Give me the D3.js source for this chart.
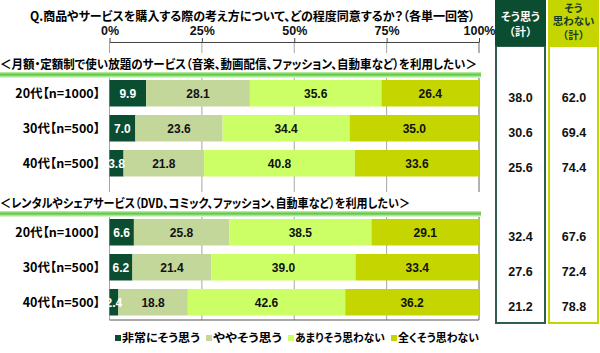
<!DOCTYPE html>
<html>
<head>
<meta charset="utf-8">
<script src="https://cdn.jsdelivr.net/npm/d3@7"></script>
<style>
  body { margin: 0; background: #fff; }
  svg { display: block; font-family: "Noto Sans CJK JP", sans-serif; font-feature-settings: "palt"; }
  .num { font-family: "Liberation Sans", Arial, sans-serif; }
</style>
</head>
<body>
<div id="chart"></div>
<script>
// data
const title = "Q.商品やサービスを購入する際の考え方について、どの程度同意するか？（各単一回答）";
const categories = ["20代【n=1000】", "30代【n=500】", "40代【n=500】"];
const seriesNames = ["非常にそう思う", "ややそう思う", "あまりそう思わない", "全くそう思わない"];
const sectionTitles = [
  "＜月額・定額制で使い放題のサービス（音楽、動画配信、ファッション、自動車など）を利用したい＞",
  "＜レンタルやシェアサービス（DVD、コミック、ファッション、自動車など）を利用したい＞"
];
const subscriptionValues = [
  [9.9, 28.1, 35.6, 26.4],
  [7.0, 23.6, 34.4, 35.0],
  [3.8, 21.8, 40.8, 33.6]
];
const rentalValues = [
  [6.6, 25.8, 38.5, 29.1],
  [6.2, 21.4, 39.0, 33.4],
  [2.4, 18.8, 42.6, 36.2]
];
const subscriptionAgree = [38.0, 30.6, 25.6];
const subscriptionDisagree = [62.0, 69.4, 74.4];
const rentalAgree = [32.4, 27.6, 21.2];
const rentalDisagree = [67.6, 72.4, 78.8];
const tickValues = [0, 25, 50, 75, 100];

const colors = ["#0b4d31", "#c4d79b", "#ccff66", "#c5d500"];
const color = d3.scaleOrdinal().domain(seriesNames).range(colors);

const width = 600, height = 353;
const svg = d3.select("#chart").append("svg")
  .attr("width", width).attr("height", height);

const defs = svg.append("defs");
const grad = defs.append("linearGradient")
  .attr("id", "band").attr("x1", 0).attr("y1", 0).attr("x2", 0).attr("y2", 1);
grad.append("stop").attr("offset", "0%").attr("stop-color", "#c9efb4");
grad.append("stop").attr("offset", "45%").attr("stop-color", "#58c83a");
grad.append("stop").attr("offset", "100%").attr("stop-color", "#eefbe8");

const x = d3.scaleLinear().domain([0, 100]).range([109.5, 479]);

// title
svg.append("text")
  .attr("x", 30).attr("y", 21)
  .attr("font-size", 12.5).attr("font-weight", "bold")
  .attr("textLength", 445).attr("lengthAdjust", "spacingAndGlyphs")
  .text(title);

// gridlines
svg.append("g").selectAll("line")
  .data(tickValues)
  .enter().append("line")
  .attr("x1", (d) => x(d)).attr("x2", (d) => x(d))
  .attr("y1", 42).attr("y2", 320)
  .attr("stroke", (d) => (d === 100 ? "#666" : "#a6a6a6"))
  .attr("stroke-width", 1);

// top axis
const axis = svg.append("g")
  .attr("transform", "translate(0,42)")
  .call(d3.axisTop(x).tickValues(tickValues).tickFormat((d) => d + "%").tickSize(4).tickSizeOuter(0).tickPadding(3));
axis.select(".domain").attr("stroke", "#444");
axis.selectAll(".tick line").attr("stroke", "#444");
axis.selectAll("text")
  .attr("font-family", "Liberation Sans, Arial, sans-serif")
  .attr("font-size", 12.5).attr("font-weight", "bold").attr("fill", "#111");

// bottom line
svg.append("line")
  .attr("x1", x(0)).attr("x2", x(100))
  .attr("y1", 320).attr("y2", 320)
  .attr("stroke", "#555");

const groups = [
  { title: sectionTitles[0], titleWidth: 477, values: subscriptionValues, agree: subscriptionAgree, disagree: subscriptionDisagree, range: [75.75, 180.75] },
  { title: sectionTitles[1], titleWidth: 410, values: rentalValues, agree: rentalAgree, disagree: rentalDisagree, range: [214.75, 319.75] }
];

const stack = d3.stack().keys(seriesNames);

groups.forEach((grp) => {
  const y = d3.scaleBand().domain(categories).range(grp.range).paddingInner(0.243).paddingOuter(0.1215);
  const rows = categories.map((c, i) => {
    const row = { category: c };
    seriesNames.forEach((s, j) => { row[s] = grp.values[i][j]; });
    return row;
  });
  const series = stack(rows);

  // section header
  const top = y(categories[0]);
  svg.append("rect")
    .attr("x", 0).attr("y", top - 27).attr("width", 481).attr("height", 21)
    .attr("fill", "#fff");
  svg.append("rect")
    .attr("x", 0).attr("y", top - 8).attr("width", 481).attr("height", 6)
    .attr("fill", "url(#band)");
  svg.append("text")
    .attr("x", 0).attr("y", top - 11)
    .attr("font-size", 12.5).attr("font-weight", "bold")
    .attr("textLength", grp.titleWidth).attr("lengthAdjust", "spacingAndGlyphs")
    .text(grp.title);

  // bars
  const layer = svg.append("g").selectAll("g")
    .data(series)
    .enter().append("g")
    .attr("fill", (d) => color(d.key));
  layer.selectAll("rect")
    .data((d) => d)
    .enter().append("rect")
    .attr("x", (d) => x(d[0]))
    .attr("y", (d) => y(d.data.category))
    .attr("width", (d) => x(d[1]) - x(d[0]))
    .attr("height", y.bandwidth());

  // bar labels
  series.forEach((s, si) => {
    svg.append("g").selectAll("text")
      .data(s)
      .enter().append("text")
      .attr("class", "num")
      .attr("x", (d) => (x(d[0]) + x(d[1])) / 2)
      .attr("y", (d) => y(d.data.category) + y.bandwidth() / 2)
      .attr("dy", "0.36em")
      .attr("text-anchor", "middle")
      .attr("font-size", 12).attr("font-weight", "bold")
      .attr("fill", si === 0 ? "#fff" : "#111")
      .text((d) => (d[1] - d[0]).toFixed(1));
  });

  // category labels
  svg.append("g").selectAll("text")
    .data(categories)
    .enter().append("text")
    .attr("x", 100)
    .attr("y", (d) => y(d) + y.bandwidth() / 2)
    .attr("dy", "0.36em")
    .attr("text-anchor", "end")
    .attr("font-size", 12.5).attr("font-weight", "bold")
    .text((d) => d);

  // summary columns
  [grp.agree, grp.disagree].forEach((vals, k) => {
    svg.append("g").selectAll("text")
      .data(vals)
      .enter().append("text")
      .attr("class", "num")
      .attr("x", k === 0 ? 520.5 : 574)
      .attr("y", (d, i) => y(categories[i]) + y.bandwidth() / 2 + 4.5)
      .attr("dy", "0.36em")
      .attr("text-anchor", "middle")
      .attr("font-size", 12.5).attr("font-weight", "bold")
      .attr("fill", "#111")
      .text((d) => d.toFixed(1));
  });
});

// summary boxes
const boxes = [
  { x: 496, w: 49, fill: colors[0], stroke: "#2f5f4c", textColor: "#fff", lines: ["そう思う", "（計）"], ys: [20.5, 35.5] },
  { x: 549, w: 49, fill: colors[3], stroke: colors[3], textColor: "#143d2a", lines: ["そう", "思わない", "（計）"], ys: [12, 25, 38.5] }
];
boxes.forEach((b) => {
  svg.append("rect")
    .attr("x", b.x).attr("y", 46).attr("width", b.w).attr("height", 277)
    .attr("fill", "none").attr("stroke", b.stroke).attr("stroke-width", 2);
  svg.append("rect")
    .attr("x", b.x - 1).attr("y", 0).attr("width", b.w + 2).attr("height", 46)
    .attr("fill", b.fill);
  b.lines.forEach((t, i) => {
    svg.append("text")
      .attr("x", b.x + b.w / 2).attr("y", b.ys[i])
      .attr("text-anchor", "middle")
      .attr("font-size", b.lines.length > 2 ? 10.5 : 11).attr("font-weight", "bold")
      .style("font-feature-settings", t.startsWith("（") ? "normal" : "palt")
      .attr("fill", b.textColor)
      .text(t);
  });
});

// legend
const legendWidths = [78, 69, 90, 81];
const legend = svg.append("g").attr("transform", "translate(115,338)");
let lx = 0;
seriesNames.forEach((s, i) => {
  legend.append("rect")
    .attr("x", lx).attr("y", -3).attr("width", 6).attr("height", 6)
    .attr("fill", color(s));
  legend.append("text")
    .attr("x", lx + 7).attr("y", 0).attr("dy", "0.36em")
    .attr("font-size", 11.5).attr("font-weight", "bold")
    .attr("textLength", legendWidths[i]).attr("lengthAdjust", "spacingAndGlyphs")
    .text(s);
  lx += 7 + legendWidths[i] + 6;
});
</script>
</body>
</html>
